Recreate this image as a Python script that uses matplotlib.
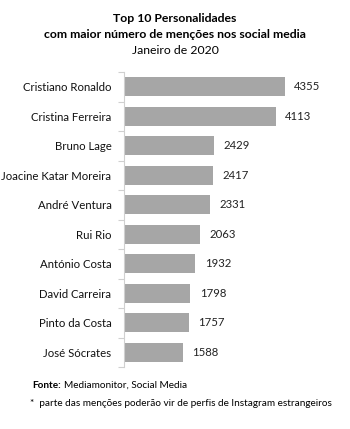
import matplotlib.pyplot as plt

plt.rcParams["font.family"] = ["Lato", "DejaVu Sans"]

names = ["Cristiano Ronaldo", "Cristina Ferreira", "Bruno Lage",
         "Joacine Katar Moreira", "André Ventura", "Rui Rio",
         "António Costa", "David Carreira", "Pinto da Costa", "José Sócrates"]
mentions = [4355, 4113, 2429, 2417, 2331, 2063, 1932, 1798, 1757, 1588]

fig = plt.figure(figsize=(3.5, 4.29), dpi=100)
ax = fig.add_axes([124 / 350, 1 - 367 / 429, 210 / 350, 295 / 429])

y = list(range(len(names)))
ax.barh(y, mentions, height=0.65, color="#A6A6A6")
ax.set_ylim(len(names) - 0.5, -0.5)
ax.set_xlim(0, 5680)

for yi, v in zip(y, mentions):
    ax.text(v + 250, yi, str(v), va="center", ha="left", fontsize=8.2, color="#222222")

ax.set_yticks(y)
ax.set_yticklabels(names, fontsize=8.2, color="#111111")
ax.set_yticks([i + 0.5 for i in range(-1, len(names))], minor=True)
ax.tick_params(axis="y", which="major", length=0, pad=9)
ax.tick_params(axis="y", which="minor", length=4, color="#D0D0D0", width=0.8)
ax.set_xticks([])
for s in ["top", "right", "bottom"]:
    ax.spines[s].set_visible(False)
ax.spines["left"].set_color("#D0D0D0")
ax.spines["left"].set_linewidth(0.8)

fig.text(0.5, 1 - 18 / 429, "Top 10 Personalidades", ha="center", va="center",
         fontsize=8.8, fontweight="bold")
fig.text(0.5, 1 - 34 / 429, "com maior número de menções nos social media", ha="center",
         va="center", fontsize=8.8, fontweight="bold")
fig.text(0.5, 1 - 51 / 429, "Janeiro de 2020", ha="center", va="center", fontsize=8.8)

fonte = fig.text(32 / 350, 1 - 385 / 429, "Fonte:", ha="left", va="center",
                 fontsize=7.2, fontweight="bold")
fig.text(64 / 350, 1 - 385 / 429, "Mediamonitor, Social Media",
         ha="left", va="center", fontsize=7.2)
fig.text(30 / 350, 1 - 403 / 429, "*  parte das menções poderão vir de perfis de Instagram estrangeiros",
         ha="left", va="center", fontsize=7.2)

fig.savefig("out.png", dpi=100, facecolor="white")
